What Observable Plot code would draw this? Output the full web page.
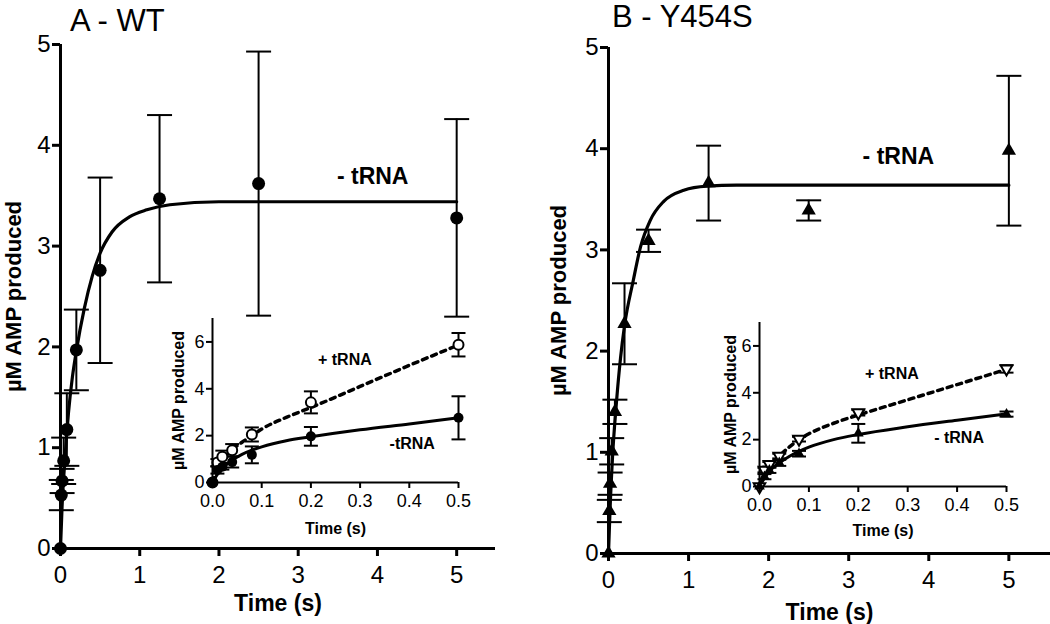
<!DOCTYPE html>
<html><head><meta charset="utf-8">
<script src="https://cdn.jsdelivr.net/npm/d3@7"></script>
<script src="https://cdn.jsdelivr.net/npm/@observablehq/plot@0.6"></script>
<style>
body{margin:0;background:#fff;}
#wrap{position:relative;width:1050px;height:624px;overflow:hidden;font-family:"Liberation Sans",Arial,sans-serif;background:#fff;}
.panel{position:absolute;}
.title{position:absolute;font-size:31px;line-height:1;white-space:nowrap;color:#000;}
</style></head><body>
<div id="wrap"></div>
<script>
// ---------- data ----------
const titleA = "A - WT";
const titleB = "B - Y454S";
const xTitle = "Time (s)";
const yTitle = "µM AMP produced";

const mainXTicks = [0, 1, 2, 3, 4, 5];
const mainYTicks = [0, 1, 2, 3, 4, 5];
const insetXTicks = [0, 0.1, 0.2, 0.3, 0.4, 0.5];
const insetYTicks = [0, 2, 4, 6];

// time points
const time = [0, 0.01, 0.02, 0.04, 0.08, 0.2, 0.5, 1.25, 2.5, 5];
const timeShort = [0, 0.01, 0.02, 0.04, 0.08, 0.2, 0.5];

// WT, - tRNA
const wtMinus = [0, 0.53, 0.67, 0.87, 1.18, 1.97, 2.76, 3.47, 3.62, 3.28];
const wtMinusErr = [0, 0.15, 0.12, 0.23, 0.36, 0.40, 0.92, 0.83, 1.31, 0.98];
// WT, + tRNA (inset)
const wtPlus = [0, 0.85, 1.10, 1.38, 2.05, 3.42, 5.88];
const wtPlusErr = [0, 0.15, 0.26, 0.26, 0.30, 0.47, 0.50];

// Y454S, - tRNA
const yMinus = [0, 0.42, 0.69, 1.01, 1.40, 2.27, 3.09, 3.66, 3.39, 3.98];
const yMinusErr = [0, 0.11, 0.11, 0.13, 0.12, 0.40, 0.11, 0.37, 0.10, 0.74];
// Y454S, + tRNA (inset)
const yPlus = [0, 0.70, 0.95, 1.30, 2.02, 3.15, 5.02];
const yPlusErr = [0, 0.10, 0.10, 0.10, 0.10, 0.12, 0.16];

// fitted curves
const fitAMainT = [0, 0.02, 0.05, 0.08, 0.1, 0.15, 0.2, 0.3, 0.4, 0.5, 0.65, 0.87, 1.09, 1.38, 2, 3, 5];
const fitAMainY = [0, 0.42, 0.82, 1.15, 1.34, 1.70, 1.96, 2.38, 2.70, 2.93, 3.14, 3.29, 3.36, 3.41, 3.44, 3.44, 3.44];
const fitBMainT = [0, 0.02, 0.05, 0.1, 0.15, 0.2, 0.31, 0.4, 0.52, 0.69, 0.94, 1.23, 1.6, 2.5, 5];
const fitBMainY = [0, 0.45, 0.95, 1.50, 1.93, 2.25, 2.70, 3.03, 3.29, 3.48, 3.59, 3.63, 3.64, 3.64, 3.64];

const fitInsetT = [0, 0.01, 0.02, 0.04, 0.06, 0.08, 0.1, 0.15, 0.2, 0.3, 0.4, 0.5];
const fitAInsetMinus = [0, 0.35, 0.60, 0.95, 1.20, 1.38, 1.52, 1.78, 1.95, 2.25, 2.50, 2.76];
const fitAInsetPlus  = [0, 0.60, 0.95, 1.40, 1.72, 2.00, 2.28, 2.78, 3.20, 4.10, 5.00, 5.87];
const fitBInsetMinus = [0, 0.35, 0.65, 1.00, 1.28, 1.50, 1.68, 2.00, 2.22, 2.55, 2.83, 3.10];
const fitBInsetPlus  = [0, 0.55, 0.85, 1.30, 1.68, 2.00, 2.25, 2.70, 3.05, 3.70, 4.35, 5.00];

// annotation labels
const labAMain = [{x: 3.94, y: 3.69, text: "- tRNA"}];
const labBMain = [{x: 3.62, y: 3.92, text: "- tRNA"}];
const labAInset = [{x: 0.269, y: 5.25, text: "+ tRNA"}, {x: 0.406, y: 1.66, text: "-tRNA"}];
const labBInset = [{x: 0.268, y: 4.80, text: "+ tRNA"}, {x: 0.404, y: 2.08, text: "- tRNA"}];

// ---------- helpers ----------
const font = "Liberation Sans, Arial, Helvetica, sans-serif";
const rows = (t, y, e) => t.map((d, i) => ({t: d, y: y[i], e: e ? e[i] : 0}));
const capsOf = (data) => data.filter(d => d.e > 0).flatMap(d => [{t: d.t, v: d.y - d.e}, {t: d.t, v: d.y + d.e}]);
const capSymbol = {draw(ctx, size) { const r = Math.sqrt(size / Math.PI); ctx.moveTo(-r, 0); ctx.lineTo(r, 0); }};
const downTriangle = {draw(ctx, size) {
  const y = Math.sqrt(size / (3 * Math.sqrt(3)));
  ctx.moveTo(0, 2 * y); ctx.lineTo(-Math.sqrt(3) * y, -y); ctx.lineTo(Math.sqrt(3) * y, -y); ctx.closePath();
}};

function mainChart(o) {
  const eb = o.pts.filter(d => d.e > 0);
  return Plot.plot({
    width: o.width, height: 624,
    marginLeft: o.ml, marginTop: o.mt, marginBottom: o.mb, marginRight: o.mr,
    x: {domain: [0, o.xMax], axis: null},
    y: {domain: [0, 5], axis: null},
    style: {fontFamily: font, fontSize: "24px", background: "transparent", overflow: "visible", color: "black"},
    marks: [
      Plot.ruleX(eb, {x: "t", y1: d => d.y - d.e, y2: d => d.y + d.e, strokeWidth: 2}),
      Plot.dot(capsOf(o.pts), {x: "t", y: "v", symbol: capSymbol, r: 12.5, stroke: "black", strokeWidth: 2, fill: "none"}),
      Plot.line(o.fit, {x: "t", y: "y", strokeWidth: 3.2, curve: "monotone-x"}),
      Plot.dot(o.pts, {x: "t", y: "y", symbol: o.symbol, r: o.r, fill: "black", stroke: "none"}),
      Plot.ruleY([0], {strokeWidth: 3}),
      Plot.ruleX([0], {strokeWidth: 3}),
      Plot.axisX({ticks: mainXTicks, tickSize: 8, tickPadding: 9, strokeWidth: 3, fontSize: 24, tickFormat: d => String(d), label: null}),
      Plot.axisY({ticks: mainYTicks, tickSize: 8, tickPadding: 2, strokeWidth: 3, fontSize: 24, tickFormat: d => String(d), label: null}),
      Plot.text([xTitle], {frameAnchor: "bottom", lineAnchor: "middle", textAnchor: "middle", dy: o.xdy, fontWeight: "bold", fontSize: 23}),
      Plot.text([yTitle], {frameAnchor: "left", lineAnchor: "middle", textAnchor: "middle", dx: o.ydx, rotate: -90, fontWeight: "bold", fontSize: 22}),
      Plot.text(o.lab, {x: "x", y: "y", text: "text", fontWeight: "bold", fontSize: 23, lineAnchor: "middle"})
    ]
  });
}

function insetChart(o) {
  const all = o.minus.concat(o.plus).filter(d => d.e > 0);
  return Plot.plot({
    width: o.w, height: o.h,
    marginLeft: o.ml, marginTop: o.mt, marginBottom: o.mb, marginRight: o.mr,
    x: {domain: [0, 0.5], axis: null},
    y: {domain: [0, 7], axis: null},
    style: {fontFamily: font, fontSize: "18px", background: "transparent", overflow: "visible", color: "black"},
    marks: [
      Plot.line(o.fitPlus, {x: "t", y: "y", strokeWidth: 3.5, strokeDasharray: "5,5", curve: "monotone-x"}),
      Plot.line(o.fitMinus, {x: "t", y: "y", strokeWidth: 3, curve: "monotone-x"}),
      Plot.ruleX(all, {x: "t", y1: d => d.y - d.e, y2: d => d.y + d.e, strokeWidth: 2}),
      Plot.dot(capsOf(o.minus.concat(o.plus)), {x: "t", y: "v", symbol: capSymbol, r: 7, stroke: "black", strokeWidth: 2, fill: "none"}),
      Plot.dot(o.plus, {x: "t", y: "y", symbol: o.plusSymbol, r: o.plusR, fill: "white", stroke: "black", strokeWidth: 2}),
      Plot.dot(o.minus, {x: "t", y: "y", symbol: o.minusSymbol, r: o.minusR, fill: "black", stroke: "none"}),
      Plot.ruleY([0], {strokeWidth: 2}),
      Plot.ruleX([0], {strokeWidth: 2}),
      Plot.axisX({ticks: insetXTicks, tickSize: 6, tickPadding: 6, strokeWidth: 2, fontSize: 18, tickFormat: d3.format(".1f"), label: null}),
      Plot.axisY({ticks: insetYTicks, tickSize: 6, tickPadding: 2, strokeWidth: 2, fontSize: 18, tickFormat: d => String(d), label: null}),
      Plot.text([xTitle], {frameAnchor: "bottom", lineAnchor: "middle", textAnchor: "middle", dy: o.xdy, fontWeight: "bold", fontSize: 16}),
      Plot.text([yTitle], {frameAnchor: "left", lineAnchor: "middle", textAnchor: "middle", dx: o.ydx, rotate: -90, fontWeight: "bold", fontSize: 16}),
      Plot.text(o.lab, {x: "x", y: "y", text: "text", fontWeight: "bold", fontSize: 16, lineAnchor: "middle"})
    ]
  });
}

function place(el, left, top) {
  const d = document.createElement("div");
  d.className = "panel"; d.style.left = left + "px"; d.style.top = top + "px";
  d.appendChild(el); document.getElementById("wrap").appendChild(d);
}
function title(text, left, top) {
  const d = document.createElement("div");
  d.className = "title"; d.textContent = text; d.style.left = left + "px"; d.style.top = top + "px";
  document.getElementById("wrap").appendChild(d);
}

// ---------- panel A ----------
place(mainChart({
  width: 530, ml: 60, mt: 44, mb: 76, mr: 35, xMax: 5.49,
  pts: rows(time, wtMinus, wtMinusErr),
  fit: rows(fitAMainT, fitAMainY),
  symbol: "circle", r: 6.5, xdy: 55, ydx: -47, lab: labAMain
}), 0, 0);
place(insetChart({
  w: 320, h: 245, ml: 62, mt: 18, mb: 63, mr: 12,
  minus: rows(timeShort, wtMinus.slice(0, 7), wtMinusErr.slice(0, 7)),
  plus: rows(timeShort, wtPlus, wtPlusErr),
  fitMinus: rows(fitInsetT, fitAInsetMinus), fitPlus: rows(fitInsetT, fitAInsetPlus),
  minusSymbol: "circle", minusR: 5, plusSymbol: "circle", plusR: 5,
  xdy: 46, ydx: -34, lab: labAInset
}), 150, 300);
title(titleA, 70, 5);

// ---------- panel B ----------
place(mainChart({
  width: 520, ml: 78, mt: 47, mb: 71, mr: 0, xMax: 5.52,
  pts: rows(time, yMinus, yMinusErr),
  fit: rows(fitBMainT, fitBMainY),
  symbol: "triangle", r: 5.3, xdy: 59, ydx: -50, lab: labBMain
}), 530, 0);
place(insetChart({
  w: 320, h: 250, ml: 59, mt: 22, mb: 64, mr: 14,
  minus: rows(timeShort, yMinus.slice(0, 7), yMinusErr.slice(0, 7)),
  plus: rows(timeShort, yPlus, yPlusErr),
  fitMinus: rows(fitInsetT, fitBInsetMinus), fitPlus: rows(fitInsetT, fitBInsetPlus),
  minusSymbol: "triangle", minusR: 4, plusSymbol: downTriangle, plusR: 4.3,
  xdy: 44, ydx: -29, lab: labBInset
}), 700, 300);
title(titleB, 612, 1);
</script>
</body></html>
